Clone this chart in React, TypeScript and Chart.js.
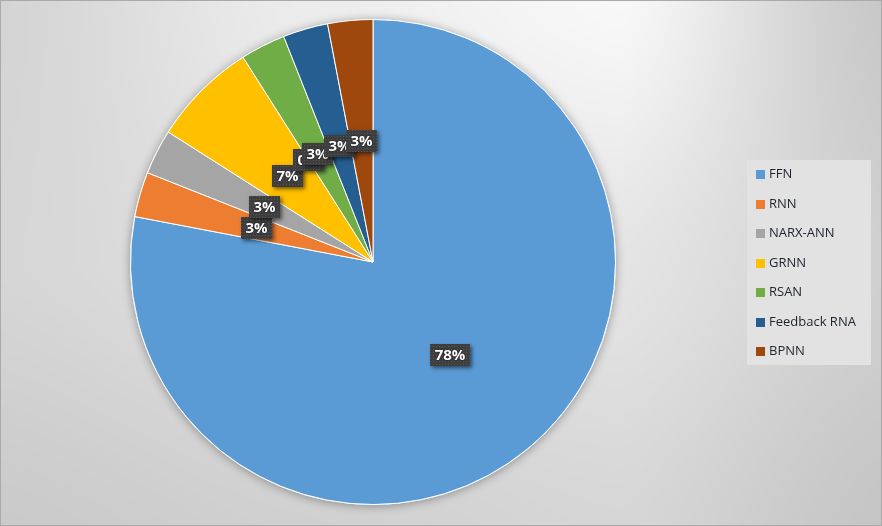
import React, { useEffect, useRef } from "react";
import { Chart, registerables } from "chart.js";
Chart.register(...registerables);

// ---- data ----
const categories = ["FFN", "RNN", "NARX-ANN", "GRNN", "", "RSAN", "Feedback RNA", "BPNN"];
const shares = [78, 3, 3, 7, 0, 3, 3, 3];
const sliceColors = ["#5B9BD5", "#ED7D31", "#A5A5A5", "#FFC000", "#4472C4", "#70AD47", "#255E91", "#9E480E"];
const percentLabels = ["78%", "3%", "3%", "7%", "0%", "3%", "3%", "3%"];

// ---- background (grey gradient) sample grid ----
const bgXs = [0, 300, 620, 882];
const bgYs = [0, 263, 526];
const bgGrid = [
  [0xd4, 0xec, 0xf8, 0xc8],
  [0xd6, 0xe2, 0xe4, 0xd0],
  [0xca, 0xd0, 0xd6, 0xc5],
];

function interp1(xs: number[], x: number) {
  let i = 0;
  while (i < xs.length - 2 && x > xs[i + 1]) i++;
  const t = Math.min(1, Math.max(0, (x - xs[i]) / (xs[i + 1] - xs[i])));
  const s = t * t * (3 - 2 * t);
  return { i, t: (t + s) / 2 };
}

let bgCache: ImageData | null = null;
const backgroundPlugin = {
  id: "bgGradient",
  beforeDraw(chart: any) {
    const { ctx, width, height } = chart;
    if (!bgCache || bgCache.width !== width || bgCache.height !== height) {
      const img = ctx.createImageData(width, height);
      const colI = [] as { i: number; t: number }[];
      for (let x = 0; x < width; x++) colI.push(interp1(bgXs, x));
      for (let y = 0; y < height; y++) {
        const r = interp1(bgYs, y);
        for (let x = 0; x < width; x++) {
          const c = colI[x];
          const a = bgGrid[r.i][c.i] * (1 - c.t) + bgGrid[r.i][c.i + 1] * c.t;
          const b = bgGrid[r.i + 1][c.i] * (1 - c.t) + bgGrid[r.i + 1][c.i + 1] * c.t;
          const v = a * (1 - r.t) + b * r.t;
          const k = (y * width + x) * 4;
          img.data[k] = v;
          img.data[k + 1] = v;
          img.data[k + 2] = v;
          img.data[k + 3] = 255;
        }
      }
      bgCache = img;
    }
    ctx.putImageData(bgCache, 0, 0);
    ctx.save();
    ctx.strokeStyle = "#a9a9a9";
    ctx.lineWidth = 1;
    ctx.strokeRect(0.5, 0.5, width - 1, height - 1);
    ctx.restore();
  },
};

const pieShadowPlugin = {
  id: "pieShadow",
  beforeDatasetsDraw(chart: any) {
    const arc = chart.getDatasetMeta(0).data[0];
    if (!arc) return;
    const { ctx } = chart;
    ctx.save();
    ctx.shadowColor = "rgba(0,0,0,0.35)";
    ctx.shadowBlur = 10;
    ctx.shadowOffsetX = 0;
    ctx.shadowOffsetY = 1;
    ctx.fillStyle = "#ffffff";
    ctx.beginPath();
    ctx.arc(arc.x, arc.y, arc.outerRadius + 0.5, 0, Math.PI * 2);
    ctx.fill();
    ctx.restore();
  },
};

let dotPattern: CanvasPattern | null = null;
function getPattern(ctx: CanvasRenderingContext2D) {
  if (dotPattern) return dotPattern;
  const c = document.createElement("canvas");
  c.width = 3;
  c.height = 3;
  const p = c.getContext("2d")!;
  p.fillStyle = "#3e3e3e";
  p.fillRect(0, 0, 3, 3);
  p.fillStyle = "#555555";
  p.fillRect(1, 1, 1, 1);
  dotPattern = ctx.createPattern(c, "repeat");
  return dotPattern;
}

const labelPlugin = {
  id: "pctLabels",
  afterDatasetsDraw(chart: any) {
    const { ctx } = chart;
    const meta = chart.getDatasetMeta(0);
    ctx.save();
    ctx.font = "bold 15px 'Open Sans', sans-serif";
    ctx.textAlign = "center";
    ctx.textBaseline = "middle";
    meta.data.forEach((arc: any, i: number) => {
      const pos = arc.tooltipPosition();
      const text = percentLabels[i];
      const w = Math.round(ctx.measureText(text).width + 9);
      const h = 22;
      const x = Math.round(pos.x - w / 2);
      const y = Math.round(pos.y - h / 2);
      ctx.save();
      ctx.shadowColor = "rgba(0,0,0,0.55)";
      ctx.shadowBlur = 4;
      ctx.shadowOffsetX = 2;
      ctx.shadowOffsetY = 2;
      ctx.fillStyle = "#3e3e3e";
      ctx.fillRect(x, y, w, h);
      ctx.restore();
      ctx.fillStyle = getPattern(ctx) as any;
      ctx.fillRect(x, y, w, h);
      ctx.save();
      ctx.shadowColor = "rgba(0,0,0,0.8)";
      ctx.shadowBlur = 2;
      ctx.fillStyle = "#ffffff";
      ctx.fillText(text, x + w / 2, y + h / 2 + 1);
      ctx.restore();
    });
    ctx.restore();
  },
};

const legendPlugin = {
  id: "sideLegend",
  afterDraw(chart: any) {
    const { ctx } = chart;
    const items = categories
      .map((name, i) => ({ name, color: sliceColors[i] }))
      .filter((it) => it.name !== "");
    const boxX = 747, boxY = 160, boxW = 124, boxH = 205;
    ctx.save();
    ctx.fillStyle = "#e2e2e2";
    ctx.fillRect(boxX, boxY, boxW, boxH);
    ctx.font = "13px 'Open Sans', sans-serif";
    ctx.textBaseline = "middle";
    ctx.textAlign = "left";
    items.forEach((it, k) => {
      const cy = 174.5 + k * 29.5;
      ctx.fillStyle = it.color;
      ctx.fillRect(756, Math.round(cy - 4.5), 9, 9);
      ctx.fillStyle = "#1f2330";
      ctx.fillText(it.name, 769, cy);
    });
    ctx.restore();
  },
};

export default function App() {
  const ref = useRef<HTMLCanvasElement | null>(null);
  useEffect(() => {
    if (!ref.current) return;
    const chart = new Chart(ref.current, {
      type: "pie",
      data: {
        labels: categories,
        datasets: [
          {
            data: shares,
            backgroundColor: sliceColors,
            borderColor: "#ffffff",
            borderWidth: (c: any) => (shares[c.dataIndex] === 0 ? 0 : 1),
          },
        ],
      },
      options: {
        responsive: false,
        animation: false,
        layout: { padding: { left: 0, right: 136, top: 19, bottom: 21 } },
        plugins: {
          legend: { display: false },
          tooltip: { enabled: false },
        },
      },
      plugins: [backgroundPlugin, pieShadowPlugin, labelPlugin, legendPlugin],
    } as any);
    return () => chart.destroy();
  }, []);
  return (
    <div style={{ position: "absolute", left: 0, top: 0, width: 882, height: 526 }}>
      <canvas ref={ref} width={882} height={526} style={{ display: "block" }} />
    </div>
  );
}
